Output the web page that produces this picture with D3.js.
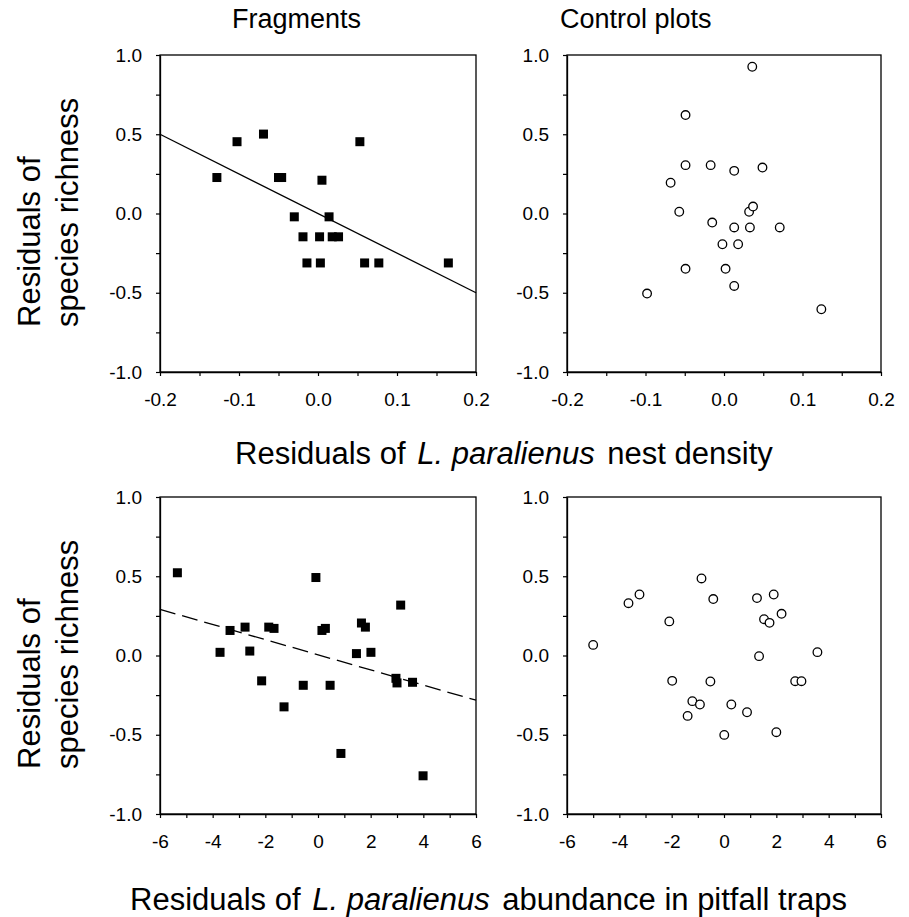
<!DOCTYPE html>
<html>
<head>
<meta charset="utf-8">
<script src="https://cdn.jsdelivr.net/npm/d3@7"></script>
<style>
  body { margin: 0; background: #fff; }
  svg { display: block; font-family: "Liberation Sans", Arial, sans-serif; }
</style>
</head>
<body>
<svg id="chart" width="909" height="917"></svg>
<script>
// residuals of L. paralienus nest density vs residuals of species richness
const nestFragX = [-0.128, -0.1025, -0.069, -0.050, -0.046, 0.005, 0.053, -0.030, 0.014,
  -0.019, 0.002, 0.018, 0.026, -0.014, 0.003, 0.059, 0.077, 0.165];
const nestFragY = [0.227, 0.453, 0.501, 0.227, 0.227, 0.21, 0.453, -0.021, -0.021,
  -0.147, -0.147, -0.147, -0.147, -0.312, -0.312, -0.312, -0.312, -0.312];
const nestCtrlX = [0.036, -0.049, -0.049, -0.017, 0.013, 0.049, -0.068, -0.057, 0.032,
  0.037, -0.015, 0.013, 0.033, 0.071, -0.002, 0.018, -0.049, 0.002, 0.013, -0.098, 0.124];
const nestCtrlY = [0.926, 0.621, 0.305, 0.305, 0.269, 0.29, 0.194, 0.011, 0.011,
  0.044, -0.057, -0.088, -0.088, -0.088, -0.194, -0.194, -0.349, -0.349, -0.457, -0.505, -0.604];

// residuals of L. paralienus abundance in pitfall traps vs residuals of species richness
const pitFragX = [-5.34, -3.72, -3.34, -2.77, -2.59, -2.14, -1.87, -1.67, -1.29, -0.56,
  -0.08, 0.15, 0.28, 0.46, 0.87, 1.46, 1.65, 1.80, 2.01, 3.14, 2.96, 3.00, 3.59, 3.99];
const pitFragY = [0.522, 0.02, 0.158, 0.179, 0.028, -0.16, 0.179, 0.171, -0.324, -0.188,
  0.492, 0.158, 0.171, -0.188, -0.618, 0.012, 0.205, 0.179, 0.02, 0.318, -0.144, -0.173, -0.169, -0.759];
const pitCtrlX = [-5.0, -3.65, -3.23, -2.09, -1.98, -1.39, -1.21, -0.92, -0.86, -0.52,
  -0.41, 0.01, 0.28, 0.88, 1.26, 1.34, 1.53, 1.74, 1.90, 2.20, 2.0, 2.72, 2.96, 3.57];
const pitCtrlY = [0.067, 0.33, 0.385, 0.215, -0.16, -0.381, -0.288, -0.309, 0.486, -0.164,
  0.356, -0.501, -0.309, -0.358, 0.362, -0.004, 0.229, 0.206, 0.385, 0.263, -0.484, -0.162, -0.162, 0.021];

// fitted lines [intercept, slope]
const nestFragFit = [0.0, -2.5];
const pitFragFit = [0.0045, -0.0478];

const yTicks = [-1, -0.75, -0.5, -0.25, 0, 0.25, 0.5, 0.75, 1];
const yLabels = [-1, -0.5, 0, 0.5, 1];
const nestTicks = [-0.2, -0.15, -0.1, -0.05, 0, 0.05, 0.1, 0.15, 0.2];
const nestLabels = [-0.2, -0.1, 0, 0.1, 0.2];
const pitTicks = d3.range(-6, 7);
const pitLabels = [-6, -4, -2, 0, 2, 4, 6];

const titles = ["Fragments", "Control plots"];

const svg = d3.select("#chart");

const panels = [
  {x0: 160, x1: 476, y0: 55, y1: 372, dom: [-0.2, 0.2], ticks: nestTicks, labels: nestLabels,
   fmt: (d) => d.toFixed(1), xs: nestFragX, ys: nestFragY, mark: "square", fit: nestFragFit, dash: null},
  {x0: 567, x1: 881, y0: 55, y1: 372, dom: [-0.2, 0.2], ticks: nestTicks, labels: nestLabels,
   fmt: (d) => d.toFixed(1), xs: nestCtrlX, ys: nestCtrlY, mark: "circle", fit: null},
  {x0: 160, x1: 476, y0: 497, y1: 814, dom: [-6, 6], ticks: pitTicks, labels: pitLabels,
   fmt: (d) => String(d), xs: pitFragX, ys: pitFragY, mark: "square", fit: pitFragFit, dash: "16,7"},
  {x0: 567, x1: 881, y0: 497, y1: 814, dom: [-6, 6], ticks: pitTicks, labels: pitLabels,
   fmt: (d) => String(d), xs: pitCtrlX, ys: pitCtrlY, mark: "circle", fit: null}
];

const near = (arr, d) => arr.some((v) => Math.abs(v - d) < 1e-9);

panels.forEach((p) => {
  const x = d3.scaleLinear().domain(p.dom).range([p.x0, p.x1]);
  const y = d3.scaleLinear().domain([-1, 1]).range([p.y1, p.y0]);
  const g = svg.append("g");

  g.append("g")
      .attr("transform", "translate(" + p.x0 + ",0)")
      .call(d3.axisLeft(y).tickValues(yTicks).tickSize(4).tickSizeOuter(0).tickPadding(14)
        .tickFormat((d) => near(yLabels, d) ? d.toFixed(1) : ""));

  g.append("g")
      .attr("transform", "translate(0," + p.y1 + ")")
      .call(d3.axisBottom(x).tickValues(p.ticks).tickSize(4).tickSizeOuter(0).tickPadding(17)
        .tickFormat((d) => near(p.labels, d) ? p.fmt(d) : ""));

  g.selectAll(".tick text").attr("font-size", 19).attr("fill", "#000")
      .attr("font-family", "Liberation Sans, Arial, sans-serif");
  g.selectAll(".tick line").attr("stroke", "#000").attr("stroke-width", 1.2);
  g.selectAll(".domain").attr("stroke", "#000").attr("stroke-width", 1.3);

  g.append("rect")
      .attr("x", p.x0).attr("y", p.y0)
      .attr("width", p.x1 - p.x0).attr("height", p.y1 - p.y0)
      .attr("fill", "none").attr("stroke", "#000").attr("stroke-width", 1.3);

  if (p.fit) {
    const ends = p.dom.map((v) => [x(v), y(p.fit[0] + p.fit[1] * v)]);
    g.append("path")
        .attr("d", d3.line()(ends))
        .attr("fill", "none").attr("stroke", "#000").attr("stroke-width", 1.3)
        .attr("stroke-dasharray", p.dash);
  }

  const pts = p.xs.map((v, i) => [v, p.ys[i]]);
  if (p.mark === "square") {
    g.selectAll(".pt").data(pts).enter().append("rect")
        .attr("x", (d) => x(d[0]) - 4.5).attr("y", (d) => y(d[1]) - 4.5)
        .attr("width", 9).attr("height", 9).attr("fill", "#000");
  } else {
    g.selectAll(".pt").data(pts).enter().append("circle")
        .attr("cx", (d) => x(d[0])).attr("cy", (d) => y(d[1])).attr("r", 4.3)
        .attr("fill", "#fff").attr("stroke", "#000").attr("stroke-width", 1.3);
  }
});

// panel titles
svg.append("text").attr("x", 232).attr("y", 28).attr("font-size", 27).text(titles[0]);
svg.append("text").attr("x", 560).attr("y", 28).attr("font-size", 27).text(titles[1]);

// y axis titles
[372, 814].forEach((yb) => {
  const t = svg.append("text").attr("font-size", 31)
      .attr("transform", "translate(40," + (yb - 45) + ") rotate(-90)");
  t.append("tspan").attr("x", 0).attr("y", 0).text("Residuals of");
  t.append("tspan").attr("x", 0).attr("y", 38).text("species richness");
});

// x axis titles
const xTitle = (x0, yb, tail) => {
  const t = svg.append("text").attr("x", x0).attr("y", yb).attr("font-size", 31)
      .style("white-space", "pre");
  t.append("tspan").text("Residuals of ");
  t.append("tspan").attr("dx", 3).attr("font-style", "italic").text("L. paralienus");
  t.append("tspan").attr("dx", 4).text(" " + tail);
};
xTitle(235, 464, "nest density");
xTitle(130, 910, "abundance in pitfall traps");
</script>
</body>
</html>
